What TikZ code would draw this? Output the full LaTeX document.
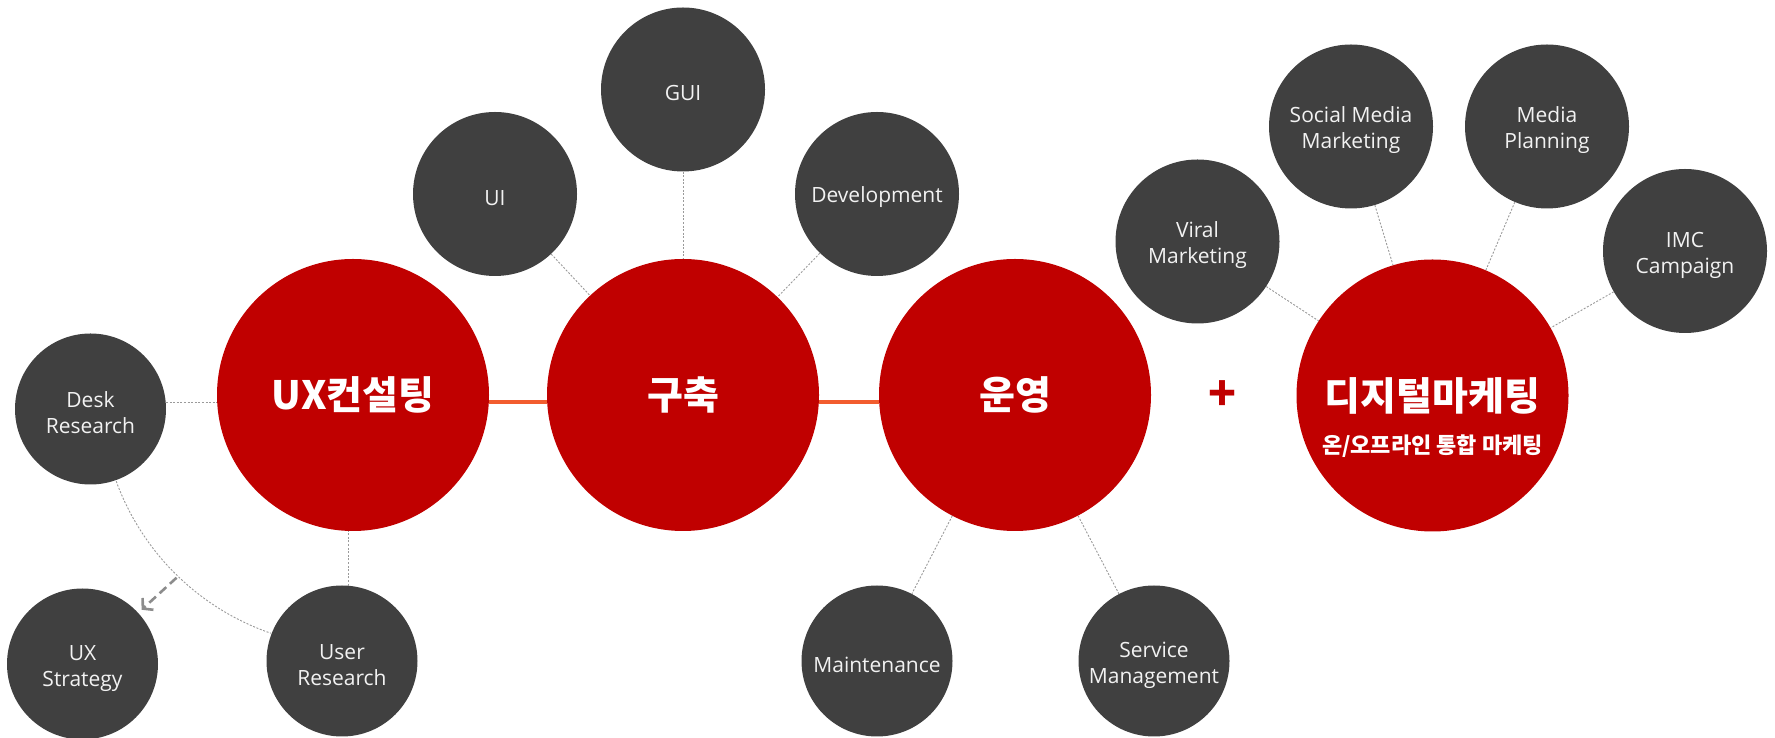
\documentclass[tikz,border=0pt]{standalone}
\usepackage{fontspec}
\setmainfont{Open Sans}
\newfontfamily\kr{Noto Sans CJK KR}
\usetikzlibrary{arrows.meta}
\definecolor{cred}{HTML}{C00000}
\definecolor{cgray}{HTML}{404040}
\definecolor{corange}{HTML}{F25C2E}
\definecolor{cdot}{HTML}{9A9A9A}
\definecolor{ctext}{HTML}{F2F2F2}
\definecolor{carrow}{HTML}{8C8C8C}
\newcommand{\twolines}[2]{\rule{0pt}{24pt}#1\\#2}
\begin{document}
\begin{tikzpicture}[x=1pt,y=1pt,
  big/.style={circle,fill=cred,minimum size=272pt,inner sep=0pt,text=white,
    font=\kr\bfseries\fontsize{39}{44}\selectfont,align=center},
  subt/.style={inner sep=0pt,text=white,font=\kr\bfseries\fontsize{22}{26}\selectfont},
  topc/.style={circle,fill=cgray,minimum size=164pt,inner sep=0pt,text=ctext,
    font=\fontsize{21}{26}\selectfont,align=center,
    execute at begin node={\rule{0pt}{23pt}}},
  botc/.style={topc,minimum size=151pt},
  link/.style={draw=cdot,line width=0.9pt,dash pattern=on 2pt off 1.6pt},
  bar/.style={draw=corange,line width=4pt},
  backarrow/.style={draw=carrow,line width=2.6pt,dash pattern=on 9pt off 5pt,
    -{Straight Barb[length=7pt,width=16pt]},shorten >=4.5pt},
  plussign/.style={inner sep=0pt,text=cred,font=\kr\bfseries\fontsize{46}{50}\selectfont}]
\useasboundingbox (0,0) rectangle (1775,738);
% main circles
\node[big] (ux) at (353,343) {UX컨설팅};
\node[big] (gu) at (683,343) {구축};
\node[big] (op) at (1015,343) {운영};
\node[big] (dm) at (1432.5,342.5) {디지털마케팅};
\node[subt] (dmsub) at (1432.5,292) {온/오프라인 통합 마케팅};
\node[plussign] (plus) at (1222,342) {+};
% satellites
\node[botc] (desk) at (90.5,329) {\twolines{Desk}{Research}};
\node[botc] (uxs) at (82.5,74) {\twolines{UX}{Strategy}};
\node[botc] (user) at (342,77) {\twolines{User}{Research}};
\node[topc] (ui) at (495,544) {UI};
\node[topc] (gui) at (683,648.5) {GUI};
\node[topc] (dev) at (877,544) {Development};
\node[botc] (maint) at (877,77) {Maintenance};
\node[botc] (serv) at (1154,77) {\twolines{Service}{Management}};
\node[topc] (viral) at (1197.5,496.5) {\twolines{Viral}{Marketing}};
\node[topc] (social) at (1351,611.5) {\twolines{Social Media}{Marketing}};
\node[topc] (media) at (1547,611.5) {\twolines{Media}{Planning}};
\node[topc] (imc) at (1685,487) {\twolines{IMC}{Campaign}};
% bars
\draw[bar] (ux.-3.37) -- (gu.183.37);
\draw[bar] (gu.-3.37) -- (op.183.37);
% dotted links
\draw[link] (desk.5) -- (desk.5 -| ux.west);
\draw[link] (user.85) -- (user.85 |- ux.south);
\draw[link] (ux) ++(200:252) arc[start angle=200,end angle=251,radius=252];
\draw[link] (ui) -- (gu);
\draw[link] (gui) -- (gu);
\draw[link] (dev) -- (gu);
\draw[link] (op) -- (maint);
\draw[link] (op) -- (serv);
\draw[link] (viral) -- (dm);
\draw[link] (social) -- (dm);
\draw[link] (media) -- (dm);
\draw[link] (imc) -- (dm);
% arrow
\path (ux) ++(226:254) coordinate (astart);
\draw[backarrow] (astart) -- (uxs);
\end{tikzpicture}
\end{document}
